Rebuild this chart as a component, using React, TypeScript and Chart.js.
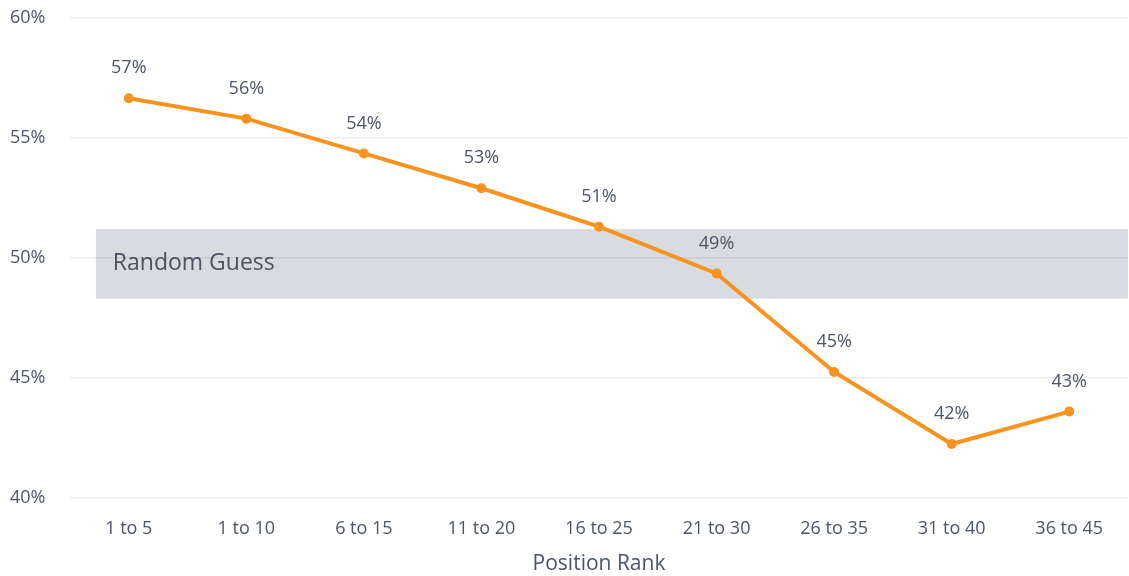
import React, { useEffect, useRef } from "react";
import { Chart, registerables } from "chart.js";

Chart.register(...registerables);

const categories = ["1 to 5", "1 to 10", "6 to 15", "11 to 20", "16 to 25", "21 to 30", "26 to 35", "31 to 40", "36 to 45"];
const values = [56.65, 55.8, 54.35, 52.9, 51.3, 49.35, 45.25, 42.25, 43.6];
const pointLabels = ["57%", "56%", "54%", "53%", "51%", "49%", "45%", "42%", "43%"];
const yTicks = [40, 45, 50, 55, 60];
const band = { low: 48.3, high: 51.2, startIndex: -0.28, label: "Random Guess" };

const FONT = "'Open Sans', sans-serif";
const TEXT = "#4d5666";
const ORANGE = "#F7931E";

export default function App() {
  const ref = useRef<HTMLCanvasElement | null>(null);
  useEffect(() => {
    document.body.style.margin = "0";
    const ctx = ref.current!.getContext("2d")!;
    const bandPlugin = {
      id: "band",
      beforeDraw(chart: any) {
        const { ctx, chartArea, scales } = chart;
        const y1 = scales.y.getPixelForValue(band.high);
        const y2 = scales.y.getPixelForValue(band.low);
        const x1 = scales.x.getPixelForValue(band.startIndex);
        const x2 = chartArea.right;
        ctx.save();
        ctx.fillStyle = "#d8dbe0";
        ctx.fillRect(x1, y1, x2 - x1, y2 - y1);
        ctx.fillStyle = "#4a5363";
        ctx.font = `23px ${FONT}`;
        ctx.textBaseline = "middle";
        ctx.textAlign = "left";
        ctx.fillText(band.label, x1 + 17, (y1 + y2) / 2);
        ctx.restore();
      },
    };
    const labelPlugin = {
      id: "pointLabels",
      afterDatasetsDraw(chart: any) {
        const { ctx } = chart;
        const meta = chart.getDatasetMeta(0);
        ctx.save();
        ctx.fillStyle = TEXT;
        ctx.font = `18px ${FONT}`;
        ctx.textAlign = "center";
        ctx.textBaseline = "middle";
        meta.data.forEach((pt: any, i: number) => {
          ctx.fillText(pointLabels[i], pt.x, pt.y - 30);
        });
        ctx.restore();
      },
    };
    const chart = new Chart(ctx, {
      type: "line",
      data: {
        labels: categories,
        datasets: [
          {
            data: values,
            borderColor: ORANGE,
            backgroundColor: ORANGE,
            borderWidth: 4,
            pointRadius: 5,
            pointBackgroundColor: ORANGE,
            pointBorderWidth: 0,
            tension: 0,
          },
        ],
      },
      options: {
        animation: false,
        responsive: false,
        maintainAspectRatio: false,
        layout: { autoPadding: false, padding: { top: 0, right: 1, left: 10, bottom: 0 } },
        plugins: { legend: { display: false }, tooltip: { enabled: false } },
        scales: {
          x: {
            offset: true,
            grid: { display: false, drawTicks: false },
            border: { display: false },
            ticks: { color: TEXT, font: { family: FONT, size: 18 }, padding: 20, maxRotation: 0 },
            title: { display: true, text: "Position Rank", color: TEXT, font: { family: FONT, size: 21, lineHeight: 1.1 }, padding: { top: 0, bottom: 0 } },
            afterFit(scale: any) { scale.height = 78; },
          },
          y: {
            min: 40,
            max: 60,
            afterBuildTicks(scale: any) { scale.ticks = yTicks.map((v) => ({ value: v })); },
            grid: { color: "rgba(0,0,0,0.07)", lineWidth: 1.5, drawTicks: false },
            border: { display: false },
            ticks: { color: TEXT, font: { family: FONT, size: 18 }, padding: 7, crossAlign: "far", callback: (v: any) => v + "%" },
            afterFit(scale: any) { scale.width = 60; },
          },
        },
      },
      plugins: [bandPlugin, labelPlugin],
    });
    return () => chart.destroy();
  }, []);
  return <canvas ref={ref} width={1129} height={576} style={{ display: "block" }} />;
}
